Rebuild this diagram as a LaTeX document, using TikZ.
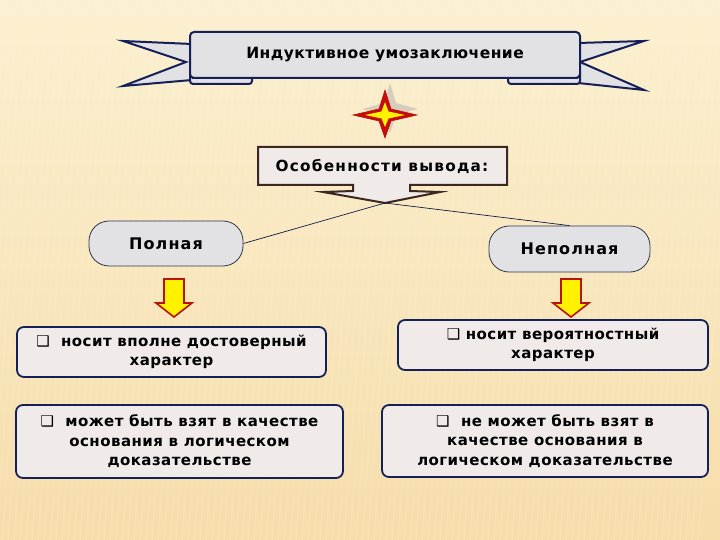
\documentclass[tikz,border=0pt]{standalone}
\usepackage{fontspec}
\setmainfont{DejaVu Sans}
\newfontfamily\symfont{DejaVu Sans}
\newfontfamily\spacedfont[LetterSpace=8]{DejaVu Sans}
\newfontfamily\pillfont[LetterSpace=7]{DejaVu Sans}
\newfontfamily\boxfont[LetterSpace=3]{DejaVu Sans}
\definecolor{bgtop}{RGB}{251,240,208}
\definecolor{bgbot}{RGB}{246,221,170}
\definecolor{navy}{RGB}{22,32,88}
\definecolor{boxfill}{RGB}{240,234,233}
\definecolor{ribfill}{RGB}{226,226,228}
\definecolor{brownln}{RGB}{60,40,32}
\definecolor{slate}{RGB}{45,55,75}
\definecolor{darkred}{RGB}{180,20,10}
\definecolor{starred}{RGB}{200,10,10}
\definecolor{shadowgray}{RGB}{205,198,185}
\newcommand{\bul}{{\symfont\mdseries ❑}}
\tikzset{
  infobox/.style={draw=navy, line width=1.8pt, fill=boxfill, rounded corners=7pt,
    align=center, inner sep=0pt, font=\boxfont\fontsize{15}{19.5}\selectfont\bfseries},
  pill/.style={draw=slate, line width=0.8pt, fill=ribfill, rounded corners=20pt,
    align=center, inner sep=0pt, font=\pillfont\fontsize{16}{18}\selectfont\bfseries},
  yarrow/.style={fill=yellow, draw=darkred, line width=1.6pt, line join=miter},
  conn/.style={draw=navy!80!black, line width=0.7pt}
}
\begin{document}
\begin{tikzpicture}[x=1pt,y=-1pt]
\useasboundingbox (0,0) rectangle (720,540);
% background
\shade[top color=bgtop, bottom color=bgbot] (0,0) rectangle (720,540);
\foreach \i in {0,6,...,740}{
  \draw[white, opacity=0.12, line width=1.5pt] (\i,0) -- (\i-40,540);
}
% ribbon tails
\filldraw[fill=ribfill, draw=navy, line width=2pt, line join=miter]
  (123,41) -- (192,44) -- (192,80) -- (123,86) -- (186,62) -- cycle;
\filldraw[fill=ribfill, draw=navy, line width=2pt, line join=miter]
  (644,41) -- (578,43) -- (578,83) -- (644,90) -- (580,62) -- cycle;
% folds
\filldraw[fill=ribfill, draw=navy, line width=2pt, rounded corners=3pt]
  (190,70) rectangle (252,84);
\filldraw[fill=ribfill, draw=navy, line width=2pt, rounded corners=3pt]
  (508,70) rectangle (580,84);
% central banner
\node[draw=navy, line width=2pt, fill=ribfill, rounded corners=4pt,
  minimum width=390pt, minimum height=46pt, inner sep=0pt,
  font=\boxfont\fontsize{15.5}{17}\selectfont\bfseries] (title) at (385,55)
  {Индуктивное умозаключение};
\draw[navy, line width=1.5pt] (192,78) -- (250,78);
\draw[navy, line width=1.5pt] (510,78) -- (578,78);
% star
\begin{scope}[shift={(390,109)}]
  \fill[shadowgray, opacity=0.8] (0,-26) -- (6,-6) -- (28,0) -- (6,6) -- (0,24) -- (-6,6) -- (-28,0) -- (-6,-6) -- cycle;
\end{scope}
\begin{scope}[shift={(385,115)}]
  \filldraw[fill=starred, draw=darkred, line width=0.6pt] (0,-25) -- (6,-6) -- (32,0) -- (6,6) -- (0,23) -- (-6,6) -- (-32,0) -- (-6,-6) -- cycle;
  \fill[yellow] (0,-13) -- (3.5,-3.5) -- (20,0) -- (3.5,3.5) -- (0,12) -- (-3.5,3.5) -- (-20,0) -- (-3.5,-3.5) -- cycle;
\end{scope}
% callout
\filldraw[fill=boxfill, draw=brownln, line width=2pt, line join=miter]
  (258,147) -- (507,147) -- (507,185) -- (410,185) -- (410,191) -- (440,192)
  -- (385,203) -- (323,192) -- (353,191) -- (353,185) -- (258,185) -- cycle;
\node[font=\spacedfont\fontsize{15.3}{18}\selectfont\bfseries] (feat) at (382,166) {Особенности вывода:};
\coordinate (tip) at (385,203);
% pills
\node[pill, minimum width=154pt, minimum height=45pt] (pol) at (166,243.5)
  {Полная};
\node[pill, minimum width=161pt, minimum height=46pt] (nepol) at (569.5,249)
  {Неполная};
\draw[conn] (tip) -- (pol.east);
\draw[conn] (tip) -- (nepol.north);
% yellow arrows
\filldraw[yarrow] (164,279) -- (184,279) -- (184,303) -- (192,303) -- (174,317)
  -- (156,303) -- (164,303) -- cycle;
\filldraw[yarrow] (561,279) -- (581,279) -- (581,303) -- (589,303) -- (571,317)
  -- (553,303) -- (561,303) -- cycle;
% info boxes
\node[infobox, minimum width=309pt, minimum height=50pt] (b1) at (171.5,352)
  {\bul\ \ носит вполне достоверный\\характер};
\node[infobox, minimum width=327pt, minimum height=73pt] (b2) at (179.5,441.5)
  {\bul\ \ может быть взят в качестве\\основания в логическом\\доказательстве};
\node[infobox, minimum width=310pt, minimum height=50pt] (b3) at (553,345)
  {\bul\ носит вероятностный\\характер};
\node[infobox, minimum width=326pt, minimum height=72pt] (b4) at (545,441)
  {\bul\ \ не может быть взят в\\качестве основания в\\логическом доказательстве};
\end{tikzpicture}
\end{document}
